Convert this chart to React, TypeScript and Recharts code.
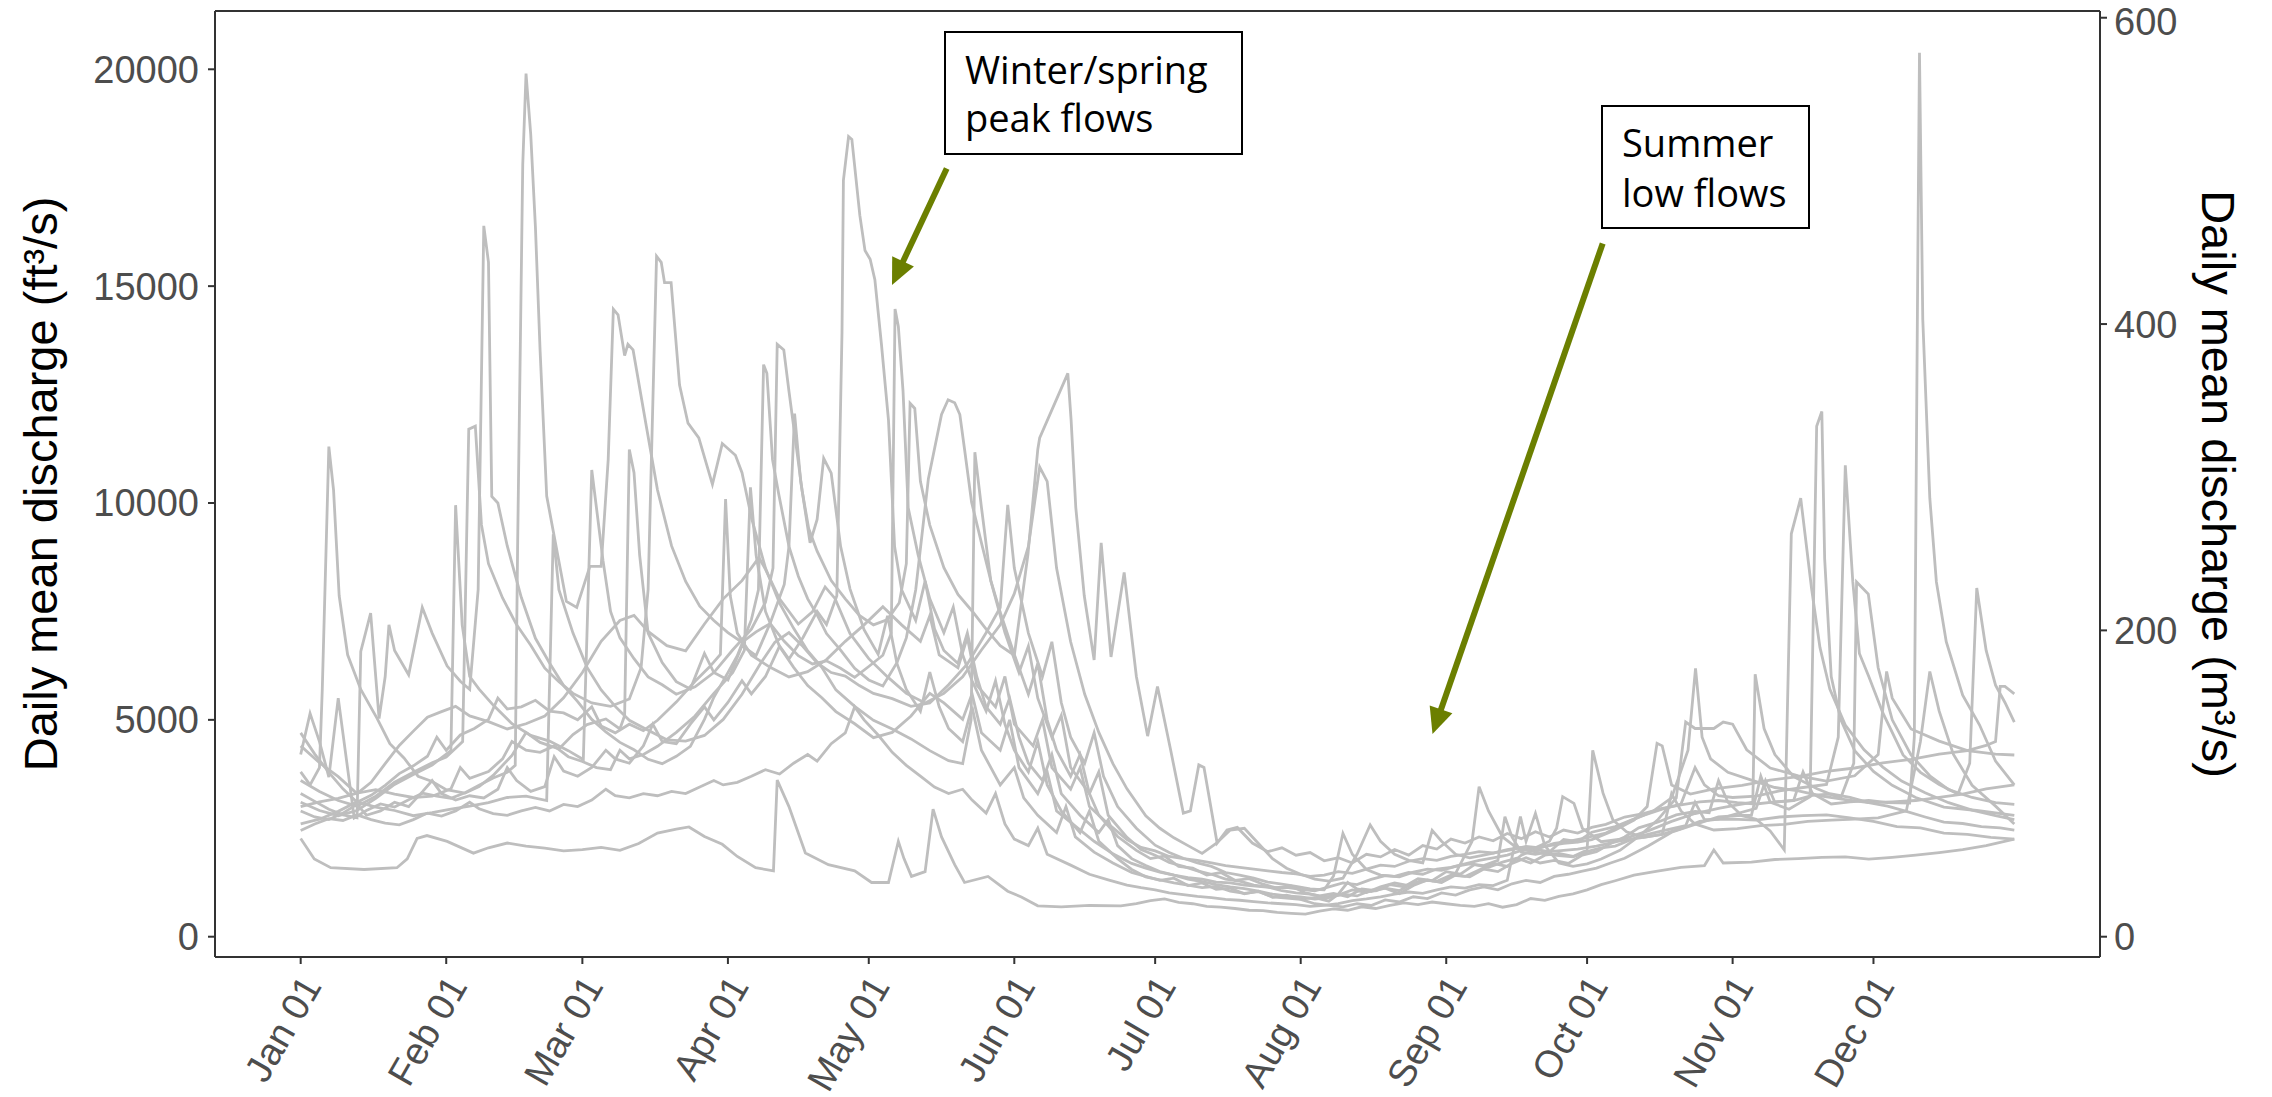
import React from "react";
import { LineChart, Line, XAxis, YAxis, ReferenceLine } from "recharts";

const W = 2272;
const H = 1097;
const CFS_PER_CMS = 35.3147;

// day of year (leap-year calendar) for the month ticks
const monthDays = [0, 31, 60, 91, 121, 152, 182, 213, 244, 274, 305, 335];
const monthLabels = ["Jan 01", "Feb 01", "Mar 01", "Apr 01", "May 01", "Jun 01", "Jul 01", "Aug 01", "Sep 01", "Oct 01", "Nov 01", "Dec 01"];
const cfsTicks = [0, 5000, 10000, 15000, 20000];
const cmsTicks = [0, 200, 400, 600];
const cfsDomain = [-468, 21344];
const dayDomain = [-18.25, 383.25];

// one array per year: [day of year, daily mean discharge ft³/s]
const flowA = [[0,3800],[2,3500],[4,3900],[4.6,5700],[6,11300],[7,10300],[8.2,7860],[10,6500],[12.8,5700],[16.3,5030],[19,4450],[22,4120],[25,3700],[28,3580],[31,3390],[35,3310],[38,3460],[41,3720],[45,4180],[48,4710],[51,4480],[55,4330],[58,4660],[61,4890],[65,5020],[68,4790],[69,5100],[70,11235],[71,10700],[72.2,8800],[74,7000],[77,6320],[80,5880],[83,5710],[86,6530],[88,6090],[91,5920],[94,6710],[97,6480],[100,7230],[103,8120],[104,9000],[105.2,12060],[106.5,10500],[108.5,9080],[110,9620],[111.4,11030],[113,10690],[115,9000],[117,8020],[120,7080],[123,6510],[125,7400],[127,6300],[129,5700],[132,5200],[134,6100],[136,5300],[138,4800],[141,4500],[143,5300],[145,4300],[149,3500],[152,3900],[154,3200],[157,2800],[161,2400],[163,3000],[165,2300],[169,1950],[173,1700],[177,1480],[180,1390],[183,1300],[186,1350],[189,1180],[192,1240],[195,1090],[198,1120],[201,990],[204,1050],[207,910],[210,960],[213,870],[216,900],[219,820],[221,980],[223,1250],[225,1100],[228,1040],[231,1120],[234,990],[237,1180],[240,1310],[243,1250],[246,1420],[249,1380],[252,1560],[255,1500],[258,1690],[261,1820],[264,1700],[267,1760],[270,1690],[273,1880],[276,1960],[279,2150],[282,2300],[285,2510],[289,2640],[293,2810],[297,2890],[300,2860],[302,3600],[304,3100],[307,2790],[310,2710],[313,2440],[316,2000],[317.5,9290],[319.5,10110],[321.8,8040],[323.6,6670],[325.7,5710],[329,4880],[333,4310],[337,3910],[341,3590],[346,3320],[351,3090],[356,2920],[361,2790],[365,2700]];

const flowB = [[0,3300],[3,3120],[6,2940],[9,2810],[12,2740],[12.8,6580],[14.9,7460],[16.7,5030],[18,6000],[18.8,7190],[20,6600],[23,6040],[25.9,7590],[28,7000],[31.2,6240],[34,5890],[36,5700],[37.8,8000],[39,16390],[40,15550],[40.7,10150],[42,10000],[44,9010],[47,7820],[50,6880],[53,6310],[56,5790],[59,5420],[62,5010],[65,4720],[68,4480],[71,4310],[74,4090],[77,3990],[80,4160],[83,4390],[86,5010],[88,5520],[91,6090],[93,6480],[96,7310],[97.5,8000],[98.6,13190],[99.3,12990],[100.5,11000],[101.8,10220],[104,9000],[106,8310],[108,7790],[110,7420],[112,6990],[115,6610],[118,6190],[121,5920],[124,5780],[127,6320],[129,6890],[131,8000],[133.7,10560],[136.5,12040],[137.9,12380],[139.3,12310],[140.4,12040],[141.4,11240],[142.9,10020],[145,9080],[147,8210],[149,7480],[152,6510],[155,5590],[157,6300],[159,5000],[161,4300],[164,3700],[166,4200],[168,3300],[170,2800],[174,2310],[178,1990],[181,1800],[184,1860],[187,1620],[190,1580],[193,1420],[196,1480],[199,1300],[202,1340],[205,1210],[208,1120],[211,1170],[214,1010],[217,940],[220,1000],[223,920],[226,1100],[229,1060],[232,1200],[235,1150],[238,1340],[241,1290],[244,1500],[247,1440],[250,1660],[253,1600],[256,1720],[259,1810],[262,1700],[265,1880],[268,1920],[271,1850],[274,2000],[275.2,4300],[277.4,3310],[279.5,2690],[282.4,2420],[286,2290],[290,2360],[294,2490],[298,2660],[302,2710],[306,2840],[310,2960],[312,3600],[314,3100],[318,3140],[322,3260],[326,3290],[330,3210],[334,3090],[338,3010],[342,2890],[346,2760],[350,2640],[354,2610],[358,2540],[362,2510],[365,2460]];

const flowC = [[0,4200],[2,5150],[4,4500],[6,3680],[8,5500],[11.4,2740],[14,2910],[17,3060],[20,2990],[23,3160],[26,3310],[29,3240],[32,3190],[35,3320],[38,3490],[41,3660],[44,3790],[45.7,3950],[46.2,8940],[47.3,17800],[48,19900],[49,18500],[50,16360],[51,13500],[52.4,10160],[53.8,9350],[56.6,7730],[58.8,7590],[61.6,8540],[64,8540],[65.5,11000],[66.6,14470],[67.6,14340],[69,13400],[69.7,13660],[70.8,13530],[73.6,11780],[76,10300],[79,9010],[82,8190],[85,7620],[88,7290],[91,7010],[94,6790],[97,7030],[100,7220],[103,6810],[106,6480],[109,6290],[112,6360],[115,6190],[118,5980],[121,6230],[124,6490],[125.8,7000],[126.6,14470],[127.3,14070],[128.3,12580],[129.4,9890],[131.5,8810],[134,7790],[137,7010],[139,7600],[141,6500],[143,5900],[146,5200],[148,5900],[150,4900],[152,4300],[155,3800],[157,4500],[159,3500],[162,2900],[166,2400],[168,2900],[170,2200],[174,1800],[177,1550],[180,1380],[183,1310],[186,1240],[189,1190],[192,1130],[195,1160],[198,1050],[201,1000],[204,1040],[207,920],[210,890],[213,860],[216,760],[219,720],[222,690],[225,760],[228,720],[231,850],[234,800],[237,920],[240,880],[243,1010],[246,960],[249,1080],[252,1150],[255,1080],[258,1220],[261,1300],[264,1250],[267,1390],[270,1440],[273,1510],[276,1580],[279,1700],[282,1810],[287,2090],[292,2410],[297,2590],[302,2760],[306,2790],[309,2800],[311,3700],[313,3100],[317,2940],[321.5,3226],[322.9,11770],[324,12110],[324.6,8720],[326,6000],[328,5010],[331,4290],[335,3810],[339,3490],[344,3210],[350,2990],[357,2910],[365,2800]];

const flowD = [[0,2264],[2.9,1793],[6.4,1590],[13.5,1550],[20.5,1590],[22.7,1793],[24.8,2264],[26.9,2332],[31.2,2197],[36.8,1927],[40,2050],[44,2160],[48,2090],[52,2040],[56,1980],[60,2010],[64,2060],[68,1990],[72,2150],[76,2390],[80,2480],[82.7,2530],[86,2310],[89.8,2130],[93,1850],[96.9,1590],[100.7,1520],[101.5,3610],[104,3000],[107.5,1930],[112.4,1660],[118,1520],[121.6,1250],[125.2,1250],[127.3,2200],[128.5,1800],[130.1,1390],[133,1500],[134.7,2940],[136.5,2300],[139.3,1660],[141.4,1250],[146.4,1390],[150.6,1050],[153.5,915],[157,713],[162,690],[168,720],[174.7,713],[178,760],[181,830],[184,870],[187,790],[190,760],[193,700],[196,680],[199,650],[202,610],[205,600],[208,560],[211,540],[214,520],[217,590],[220,640],[223,610],[226,690],[229,650],[232,720],[235,780],[238,740],[241,800],[244,760],[247,720],[250,700],[253,760],[256,680],[259,740],[262,880],[265,840],[268,930],[271,990],[274,1080],[277,1200],[280,1290],[284,1420],[289,1510],[294,1600],[299,1640],[301,2000],[303,1700],[309,1720],[314,1780],[319,1800],[324,1830],[329,1840],[334,1790],[339,1830],[344,1880],[349,1940],[354,2010],[359,2100],[365,2250]];

const flowE = [[0,3600],[4,3350],[8,3140],[12,3010],[16,3240],[20,3560],[24,3790],[28,4010],[31,4140],[34.5,4500],[35.8,11700],[37.2,11770],[38.5,9500],[40,8600],[43,7810],[46,7190],[49,6720],[52,6190],[55,5880],[58,5610],[62,5390],[66,5310],[70,5480],[72.5,6200],[74,8000],[75.8,15690],[76.8,15550],[77.5,15080],[78.9,15080],[80.7,12720],[82.5,11840],[84.8,11500],[87.7,10430],[89.8,11370],[92.6,11100],[94,10700],[96.1,9620],[99,8500],[102,7690],[105,7110],[108,6590],[111,6210],[114,5690],[118,5310],[122,4990],[126,4790],[130,4560],[134,4290],[138,4060],[141,3990],[142.8,5000],[143.6,11170],[145,9900],[147,8200],[150,7010],[153,6090],[155,6700],[157,5500],[160,4600],[162,5100],[164,3900],[168,3300],[170,3800],[172,2800],[176,2290],[179,2010],[182,1880],[185,1710],[188,1620],[191,1520],[194,1440],[197,1330],[200,1280],[203,1190],[206,1150],[209,1060],[212,1010],[215,980],[218,910],[221,960],[224,1080],[227,1020],[230,1150],[233,1240],[236,1180],[239,1310],[242,1280],[245,1420],[248,1390],[251,1540],[254,1690],[257,1620],[260,1880],[263,2010],[266,1960],[269,2240],[272,2190],[275,2410],[280,2540],[285,2760],[290,2940],[294,3060],[297,3900],[299,3500],[302,3250],[305,3210],[310,3240],[315,3360],[320,3440],[325,3510],[327.5,4600],[329,10870],[330.6,8180],[332,6530],[334,6000],[337,5160],[341.3,4190],[345,3790],[349,3510],[353,3290],[355.5,4000],[357,8040],[359,6600],[361,5800],[363,5400],[365,4950]];

const flowF = [[0,3100],[4,2910],[8,2790],[12,2910],[16,3190],[20,3510],[24,3740],[28,3960],[32,4290],[33,9950],[34.4,7190],[36,6000],[38,5710],[41,5340],[45,4910],[49,4640],[53,4510],[57,4290],[60.2,4085],[62,10760],[64.4,8670],[66,7500],[68,6890],[71,6410],[74,5990],[77,5810],[80,5590],[84,5760],[88,6090],[92,6610],[96,7090],[99,7710],[100.6,8500],[101.5,13660],[102.9,13530],[104,12580],[106.8,10290],[108.2,9410],[110,8890],[113,8210],[116,7790],[119,7410],[122,7190],[125,7310],[127.5,7700],[129,8600],[129.8,12300],[130.8,12180],[132,10500],[134,9490],[137,8510],[140,7890],[143,7510],[146,7090],[149,6710],[152,6490],[154.9,8810],[157,11235],[157.4,11500],[163.4,12990],[164.1,11910],[165.1,9890],[166.9,7860],[169,6380],[170.5,9080],[172.6,6450],[175.4,8400],[178,6000],[180.4,4625],[182.5,5770],[185.3,4305],[188,2850],[189.5,2900],[191.3,3960],[192.4,3900],[195.2,2160],[197.3,2460],[199.5,2520],[202.7,2160],[206,1960],[209,2050],[212,1880],[215,1940],[218,1750],[221,1820],[224,1700],[227,1900],[230,1840],[233,2010],[236,1880],[239,2100],[242,2020],[245,2250],[248,2160],[251,2300],[254,2210],[257,2380],[260,2260],[263,2420],[266,2300],[269,2460],[272,2390],[275,2520],[278,2590],[282,2760],[286,2840],[290,2960],[294,3040],[298,3110],[302,3140],[306,3090],[310,3060],[314,3110],[318,3140],[320,3800],[322,3300],[326,3060],[330,3110],[334,3140],[338,3090],[342.7,3080],[343.7,4600],[344.4,15000],[344.8,20380],[345.5,14240],[347,10110],[348.4,8180],[350.5,6800],[354,5570],[357.6,4880],[361,4050],[365,3500]];

const flowG = [[0,2900],[3,2760],[6,2700],[9,2850],[12,3050],[14,2800],[17,2900],[20,3100],[23,3000],[26,3350],[28,3600],[30,3300],[33,3150],[36,3250],[39,3200],[42,3400],[44,3900],[46,3600],[49,3350],[52,3460],[54,4150],[56,3820],[59,3700],[62,3900],[65,4300],[67,4100],[70,4000],[73,4400],[75,4900],[77,4500],[80,4450],[83,4900],[86,5300],[88,5000],[91,5400],[94,5900],[96,5600],[99,6000],[102,6700],[104,6400],[107,6900],[110,7500],[112,7200],[114.2,7860],[115.3,13930],[115.6,17440],[116.7,18450],[117.4,18385],[119.1,16630],[120.2,15820],[121.3,15620],[122.3,15150],[123.7,13660],[125.2,11910],[126.5,9000],[128,8000],[131,7290],[133,8200],[135,7100],[137,6600],[140,6300],[142,7000],[144,6000],[146,5300],[149,4900],[151,5500],[153,4600],[155,4000],[158,3600],[160,4200],[162,3300],[166,2800],[170,2400],[172,2700],[174,2100],[177,1800],[180,1640],[183,1500],[186,1420],[189,1330],[192,1270],[195,1200],[198,1150],[201,1110],[204,1050],[207,980],[210,940],[213,920],[216,870],[219,900],[222,980],[225,940],[228,1070],[231,1120],[234,1060],[237,1240],[240,1300],[243,1260],[246,1460],[249.5,2200],[251,3460],[253,2900],[256,2300],[259,2050],[262,1980],[265,1910],[268,1870],[271,1840],[274,1960],[277,2050],[280,2090],[285,2310],[290,2440],[295,2560],[297,3100],[299,2700],[305,2710],[310,2690],[315,2760],[320,2790],[325,2810],[330,2740],[335,2660],[340,2540],[345,2510],[350,2390],[355,2360],[360,2290],[365,2250]];

const flowH = [[0,2600],[4,2710],[8,2890],[12,3110],[16,2990],[20,2910],[24,2790],[28,2860],[32,2940],[36,3010],[40,3090],[44,3210],[48,3240],[52.4,3140],[53.8,9280],[55,8000],[58,7000],[61,6210],[64,5690],[67,5310],[70,4990],[74,4760],[78,4540],[82,4510],[86,4640],[90,5010],[94,5590],[98,6310],[101,6790],[104,7010],[107,6690],[110,6310],[113,6090],[116,6010],[119,5790],[122,5610],[126,5490],[130,5310],[134,5390],[138,5810],[142,6290],[146,7010],[149,7590],[150.6,9955],[152,8500],[155,7000],[158,6000],[160,6800],[162,5400],[164,4600],[167,4000],[169,4700],[171,3700],[174,3000],[178,2500],[182,2110],[185,1940],[188,1810],[191,1700],[194,1620],[197,1480],[200,1420],[203,1350],[206,1260],[209,1210],[212,1160],[215,1100],[218,1080],[220,1400],[222,2380],[224,1900],[227,1550],[230,1420],[233,1390],[236,1480],[239,1440],[242,1560],[245,1600],[248,1680],[251,1760],[254,1820],[257,1880],[260,1990],[263,2050],[266,2200],[267.5,2500],[268.8,3230],[271.2,3075],[273,2500],[277,2190],[282,2260],[287,2440],[292,2660],[297,2840],[302,2960],[306,3040],[309.3,3100],[309.8,6050],[311.7,4800],[314,4200],[318,3690],[323,3410],[328,3190],[330.8,4000],[331.4,8180],[333.9,7900],[336,6200],[339,5000],[343,4190],[347,3710],[351,3390],[356,3210],[361,3090],[365,3050]];

const flowI = [[0,4400],[4,4010],[8,3690],[12,3300],[15,3560],[18,3990],[21,4410],[24,4740],[27,5060],[30,5190],[33,5310],[36,5090],[40,4960],[44,4790],[48,4910],[52,5090],[56,5510],[60,6090],[64,6810],[68,7290],[71,7410],[74,7040],[78,6710],[82,6590],[86,7210],[90,7790],[94,8210],[97.6,8740],[99,8470],[102,7790],[106,7210],[109,7490],[111.7,8065],[113.8,7800],[117,6990],[121,6410],[125,5990],[129,5610],[133,5390],[137,5610],[141,5990],[145,6610],[149,7190],[152,7910],[155,9000],[157.4,10830],[159,10500],[161,8500],[164,6800],[167,5590],[170,4710],[173,3990],[176,3410],[180,2790],[183,2500],[186,2280],[189,2100],[192,1920],[195,2150],[198,2460],[201,2500],[204,2150],[207,1800],[210,1580],[213,1440],[216,1330],[219,1280],[222,1350],[225,1900],[227.8,2576],[230,2200],[233,1900],[236,1760],[239,1700],[241,2450],[243,2200],[246,1900],[249,1820],[252,1880],[255,1950],[258,2010],[261,2080],[264,2050],[267,2150],[270,2200],[273,2260],[278,2390],[283,2660],[288,2890],[292,3200],[295.5,4300],[297.1,6185],[298.5,4600],[300.3,4100],[304,3790],[309,3610],[314,3440],[319,3360],[324,3240],[329,3160],[334,3090],[339,3110],[344,3140],[349,3210],[354,3290],[359,3410],[365,3500]];

const flowJ = [[0,3000],[4,3110],[8,3190],[12,3310],[16,3390],[20,3290],[24,3210],[28,3240],[32,3410],[34,3900],[36,3650],[40,3810],[43,4100],[45,4500],[48,4300],[51,4250],[54,4400],[57,4150],[60,4040],[63,3900],[66,3850],[68,4300],[70,4100],[73,4200],[76,4390],[80,4710],[84,5090],[88,5610],[92,6090],[94.5,6600],[95.8,10360],[97,8800],[99,7500],[102,6690],[105,6210],[108,5790],[111,5510],[114,5190],[118,4910],[122,4590],[126,4710],[130,5090],[134,5610],[137,5390],[141,5010],[143,5600],[145,4700],[149,4300],[151,5000],[153,3900],[157,3300],[159,3800],[161,2900],[165,2550],[169,2200],[173,1910],[177,1690],[180,1580],[183,1490],[186,1420],[189,1360],[192,1330],[195,1260],[198,1240],[201,1190],[204,1160],[207,1130],[210,1140],[213,1090],[216,1060],[219,1150],[222,1240],[225,1200],[228,1320],[231,1410],[234,1380],[237,1490],[240,1560],[243,1530],[246,1620],[249,1680],[252,1640],[255,1760],[256.5,2768],[258,2300],[260,1950],[263,1900],[266,1960],[269,1990],[272,2020],[276,2090],[281,2210],[286,2290],[290,2360],[292,3300],[294,2900],[297,2600],[301,2460],[306,2490],[311,2560],[316,2590],[321,2660],[326,2690],[331,2710],[336,2740],[342,2900],[345,4500],[347,6115],[349,5200],[352,4210],[356,3490],[361,3010],[365,2600]];

const flowK = [[0,2450],[3,2600],[6,2720],[9,2680],[12,2810],[15,2700],[18,2620],[21,2580],[24,2700],[27,2850],[30,2780],[33,2900],[36,3100],[38,2950],[41,2840],[44,2800],[47,2900],[50,2980],[53,2900],[56,3050],[59,3000],[62,3150],[65,3400],[67,3250],[70,3200],[73,3300],[76,3250],[79,3350],[82,3300],[85,3450],[88,3600],[90,3500],[93,3560],[96,3700],[99,3850],[102,3750],[105,4000],[108,4200],[110,4050],[113,4450],[116,4700],[118,5300],[120,5000],[123,4650],[126,4250],[129,3950],[132,3700],[135,3450],[138,3300],[141,3400],[143,3150],[146,2850],[148,3300],[150,2600],[152,2250],[155,2100],[157,2500],[159,1900],[164,1650],[168,1440],[172,1310],[176,1190],[179,1130],[182,1080],[185,1010],[188,970],[191,930],[194,900],[197,860],[200,840],[203,810],[206,780],[209,760],[212,740],[215,700],[218,720],[221,760],[224,830],[227,870],[230,920],[233,980],[236,1030],[239,1000],[242,1080],[245,1150],[248,1120],[251,1200],[254,1180],[257,1300],[259.8,2768],[261,2200],[263,2845],[265,2100],[268,1700],[271,1620],[274,1680],[277,1790],[281,1990],[285,2310],[289,2690],[293,3200],[295,4950],[297,4800],[301,4800],[303,4950],[305,4900],[308,4310],[313,3890],[319,3710],[325,3590],[331,3710],[336,4200],[337.8,6115],[339,5500],[343,4790],[349,4510],[355,4290],[361,4210],[365,4190]];

const flowL = [[0,4700],[3,4210],[6,3790],[9,3410],[12,3100],[15,3260],[18,3490],[21,3760],[24,3940],[27,4160],[29,4600],[31,4300],[34,4650],[37,4800],[40,5010],[42,5500],[44,5250],[47,5300],[50,5450],[53,5200],[56,5160],[59,5000],[62,5300],[64,4860],[67,4700],[70,4900],[73,4750],[76,4990],[80,5410],[84,5890],[87,6210],[89.4,6510],[90.5,10090],[91.5,7860],[93,7000],[96,6490],[100,6210],[104,5990],[108,6110],[112,6390],[116,6810],[120,7190],[124,7610],[128,7190],[132,6810],[134,7400],[136,6500],[140,6200],[142,6900],[144,5800],[148,5300],[150,6000],[152,4900],[156,4400],[158,5000],[160,3900],[164,3400],[166,3900],[168,3000],[172,2600],[176,2240],[179,2060],[182,1980],[185,1850],[188,1800],[191,1760],[194,1700],[197,1640],[200,1600],[203,1560],[206,1520],[209,1480],[212,1450],[215,1390],[218,1420],[221,1500],[224,1460],[227,1560],[230,1650],[233,1620],[236,1740],[239,1800],[242,1760],[245,1850],[248,1900],[251,1960],[254,1930],[257,2010],[260,2060],[263,2040],[266,2100],[269,2150],[272,2180],[275,2240],[280,2460],[284,2690],[286.8,3000],[288.9,4460],[290,4400],[292,3500],[296,3290],[301,3410],[307,3490],[313,3610],[319,3690],[325,3810],[331,3890],[337,4010],[343,4090],[349,4210],[355,4290],[359,4410],[361,4500],[362,5770],[363,5770],[365,5600]];

const years = [flowA, flowB, flowC, flowD, flowE, flowF, flowG, flowH, flowI, flowJ, flowK, flowL];

const AXIS_FONT = "'Liberation Sans', Arial, Helvetica, sans-serif";
const NOTE_FONT = "'Open Sans', 'Noto Sans', sans-serif";
const INK = "#333333";
const TICK_TXT = "#4D4D4D";
const ARROW = "#6B7F00";

function MonthTick(props: any) {
  const { x, y, payload } = props;
  const i = monthDays.indexOf(payload.value);
  const ax = x + 22;
  const ay = y + 22;
  return (
    <text x={ax} y={ay} transform={`rotate(-60, ${ax}, ${ay})`} textAnchor="end" fill={TICK_TXT} fontSize={38} fontFamily={AXIS_FONT}>
      {monthLabels[i]}
    </text>
  );
}

function Arrow({ x1, y1, x2, y2 }: { x1: number; y1: number; x2: number; y2: number }) {
  const dx = x2 - x1;
  const dy = y2 - y1;
  const len = Math.hypot(dx, dy);
  const ux = dx / len;
  const uy = dy / len;
  const head = 26;
  const half = 12;
  const bx = x2 - ux * head;
  const by = y2 - uy * head;
  const pts = `${x2},${y2} ${bx + uy * half},${by - ux * half} ${bx - uy * half},${by + ux * half}`;
  return (
    <g>
      <line x1={x1} y1={y1} x2={bx + ux * 2} y2={by + uy * 2} stroke={ARROW} strokeWidth={6} />
      <polygon points={pts} fill={ARROW} />
    </g>
  );
}

export default function App() {
  return (
    <div style={{ position: "absolute", left: 0, top: 0, width: W, height: H, background: "#fff" }}>
      <LineChart width={W} height={H} margin={{ top: 11, right: 0, bottom: 0, left: 0 }}>
        <XAxis
          dataKey="d"
          type="number"
          domain={dayDomain}
          ticks={monthDays}
          interval={0}
          allowDataOverflow
          height={140}
          tickSize={7}
          tickMargin={0}
          axisLine={{ stroke: INK, strokeWidth: 2 }}
          tickLine={{ stroke: INK, strokeWidth: 2 }}
          tick={<MonthTick />}
        />
        <YAxis
          yAxisId="cfs"
          type="number"
          domain={cfsDomain}
          ticks={cfsTicks}
          allowDataOverflow
          width={215}
          tickSize={7}
          tickMargin={9}
          axisLine={{ stroke: INK, strokeWidth: 2 }}
          tickLine={{ stroke: INK, strokeWidth: 2 }}
          tick={{ fill: TICK_TXT, fontSize: 38, fontFamily: AXIS_FONT }}
        />
        <YAxis
          yAxisId="cms"
          orientation="right"
          type="number"
          domain={[cfsDomain[0] / CFS_PER_CMS, cfsDomain[1] / CFS_PER_CMS]}
          ticks={cmsTicks}
          allowDataOverflow
          width={172}
          tickSize={7}
          tickMargin={7}
          axisLine={{ stroke: INK, strokeWidth: 2 }}
          tickLine={{ stroke: INK, strokeWidth: 2 }}
          tick={{ fill: TICK_TXT, fontSize: 38, fontFamily: AXIS_FONT }}
        />
        <ReferenceLine yAxisId="cfs" y={cfsDomain[1]} stroke={INK} strokeWidth={2} />
        {years.map((s, i) => (
          <Line
            key={i}
            yAxisId="cfs"
            data={s.map(([d, q]) => ({ d, q }))}
            dataKey="q"
            type="linear"
            stroke="#BEBEBE"
            strokeWidth={2.8}
            dot={false}
            activeDot={false}
            isAnimationActive={false}
          />
        ))}
      </LineChart>
      <svg width={W} height={H} style={{ position: "absolute", left: 0, top: 0, pointerEvents: "none" }}>
        <text transform="translate(40,484) rotate(-90)" textAnchor="middle" dominantBaseline="central" fontSize={47} fontFamily={AXIS_FONT} fill="#000">
          Daily mean discharge (ft³/s)
        </text>
        <text transform="translate(2218,484) rotate(90)" textAnchor="middle" dominantBaseline="central" fontSize={47} fontFamily={AXIS_FONT} fill="#000">
          Daily mean discharge (m³/s)
        </text>
        <rect x={945} y={32} width={297} height={122} fill="#fff" stroke="#000" strokeWidth={2} />
        <text x={965} y={84} fontSize={38} fontFamily={NOTE_FONT} fill="#000">Winter/spring</text>
        <text x={965} y={132} fontSize={38} fontFamily={NOTE_FONT} fill="#000">peak flows</text>
        <rect x={1602} y={106} width={207} height={122} fill="#fff" stroke="#000" strokeWidth={2} />
        <text x={1622} y={157} fontSize={38} fontFamily={NOTE_FONT} fill="#000">Summer</text>
        <text x={1622} y={207} fontSize={38} fontFamily={NOTE_FONT} fill="#000">low flows</text>
        <Arrow x1={946.7} y1={168.5} x2={892} y2={285} />
        <Arrow x1={1602.7} y1={243.4} x2={1432.5} y2={734} />
      </svg>
    </div>
  );
}
